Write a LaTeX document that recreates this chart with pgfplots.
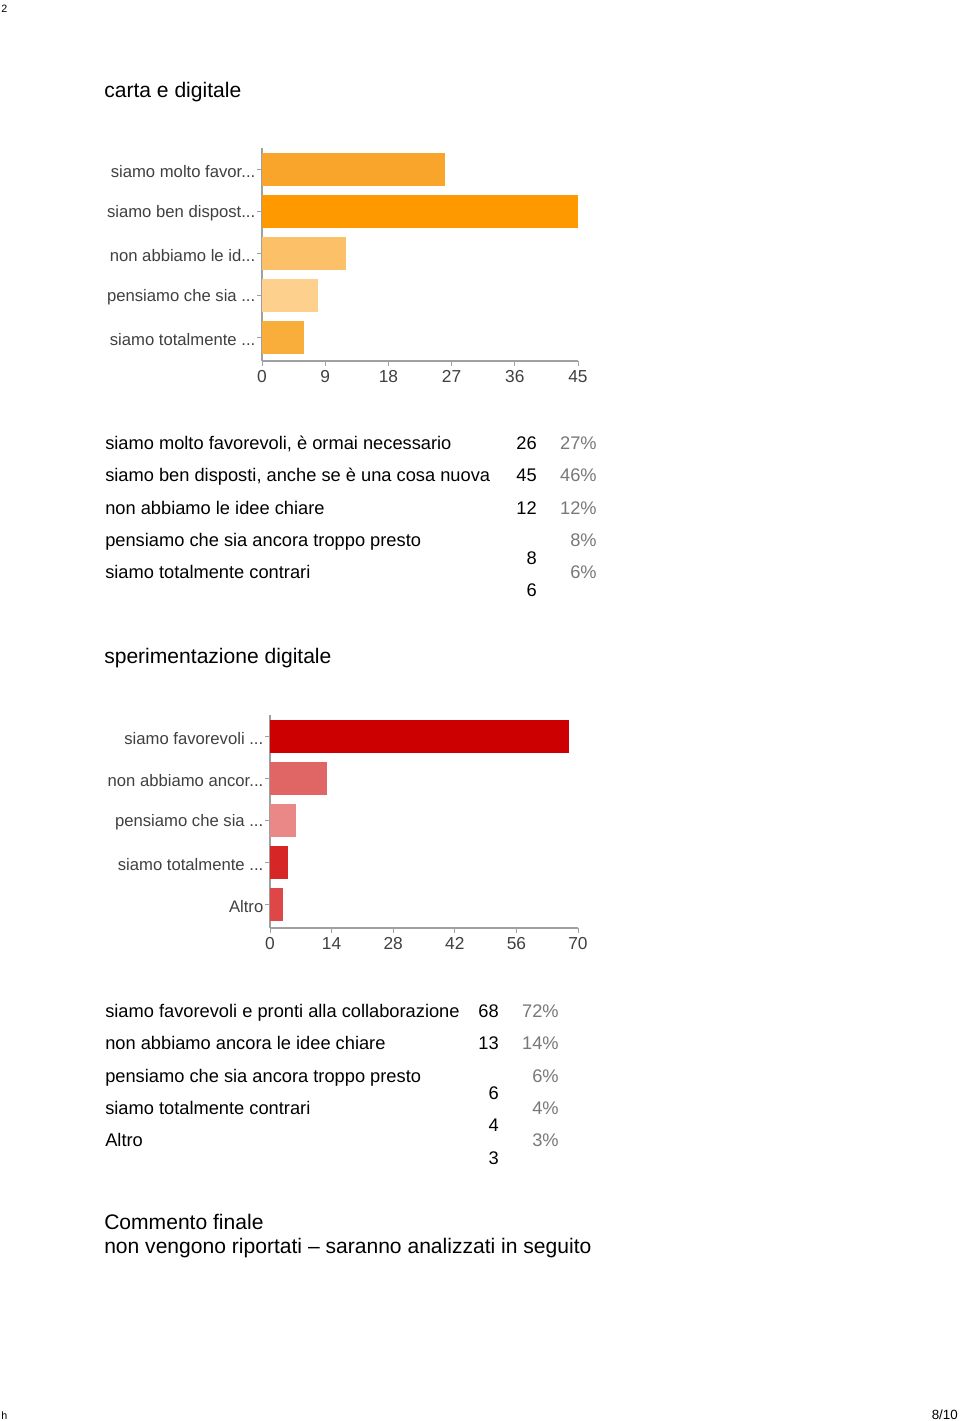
\documentclass[border=0pt]{standalone}
\usepackage{fontspec}
\setmainfont{Liberation Sans}
\usepackage{pgfplots}
\pgfplotsset{compat=1.18}
\definecolor{oA}{HTML}{F9A52B}
\definecolor{oB}{HTML}{FF9900}
\definecolor{oC}{HTML}{FCC068}
\definecolor{oD}{HTML}{FDD08E}
\definecolor{oE}{HTML}{F9AD3B}
\definecolor{rA}{HTML}{CC0000}
\definecolor{rB}{HTML}{E06666}
\definecolor{rC}{HTML}{EA8888}
\definecolor{rD}{HTML}{D62626}
\definecolor{rE}{HTML}{DE4747}
\definecolor{axgray}{HTML}{A0A0A0}
\definecolor{lblgray}{HTML}{404040}
\definecolor{pctgray}{HTML}{787878}
\newcommand{\dd}{.\kern0pt.\kern0pt.}
\pgfplotsset{
  gbar/.style={
    anchor=south west, scale only axis,
    height=159.75pt,
    ymin=0.44, ymax=5.512, ytick={1,2,3,4,5},
    axis x line*=bottom, axis y line*=left,
    axis line style={draw=axgray, line width=0.8pt},
    tick align=outside,
    tick style={draw=axgray, line width=0.6pt},
    major tick length=3.5pt,
    ticklabel style={text=lblgray},
    xticklabel style={font=\fontsize{13}{15}\selectfont},
    yticklabel style={font=\fontsize{12.5}{15}\selectfont, xshift=2pt, yshift=-1.2pt},
    /pgf/number format/assume math mode=true,
    xbar, bar width=0.786,
    clip=false,
  }
}
\newcommand{\row}[2]{\node[anchor=base west, inner sep=0pt, font=\fontsize{13.7}{16}\selectfont] at (105,#1) {#2};}
\newcommand{\num}[3]{\node[anchor=base east, inner sep=0pt, font=\fontsize{13.7}{16}\selectfont] at (#1,#2) {#3};}
\newcommand{\pct}[3]{\node[anchor=base east, inner sep=0pt, text=pctgray, font=\fontsize{13.7}{16}\selectfont] at (#1,#2) {#3};}
\begin{document}
\begin{tikzpicture}
\begin{scope}[x=0.75pt,y=-0.75pt]
\useasboundingbox (0,0) rectangle (960,1421);
\fill[white] (0,0) rectangle (960,1421);
% page fragments
\node[anchor=base west, inner sep=0pt, font=\fontsize{8}{10}\selectfont] at (1,12) {2};
\node[anchor=base west, inner sep=0pt, font=\fontsize{8}{10}\selectfont] at (1,1419) {h};
\node[anchor=base east, inner sep=0pt, font=\fontsize{10}{12}\selectfont] at (958,1419) {8/10};
% titles
\node[anchor=base west, inner sep=0pt, font=\fontsize{15.8}{18}\selectfont] at (104,97) {carta e digitale};
\node[anchor=base west, inner sep=0pt, font=\fontsize{15.8}{18}\selectfont] at (104,663) {sperimentazione digitale};
\node[anchor=base west, inner sep=0pt, font=\fontsize{15.8}{18}\selectfont] at (104,1229) {Commento finale};
\node[anchor=base west, inner sep=0pt, font=\fontsize{15.8}{18}\selectfont] at (104,1253) {non vengono riportati – saranno analizzati in seguito};
% table 1
\row{449}{siamo molto favorevoli, è ormai necessario}
\row{481}{siamo ben disposti, anche se è una cosa nuova}
\row{514}{non abbiamo le idee chiare}
\row{546}{pensiamo che sia ancora troppo presto}
\row{578}{siamo totalmente contrari}
\num{537}{449}{26}\num{537}{481}{45}\num{537}{514}{12}\num{537}{564}{8}\num{537}{596}{6}
\pct{597}{449}{27\%}\pct{597}{481}{46\%}\pct{597}{514}{12\%}\pct{597}{546}{8\%}\pct{597}{578}{6\%}
% table 2
\row{1017}{siamo favorevoli e pronti alla collaborazione}
\row{1049}{non abbiamo ancora le idee chiare}
\row{1082}{pensiamo che sia ancora troppo presto}
\row{1114}{siamo totalmente contrari}
\row{1146}{Altro}
\num{499}{1017}{68}\num{499}{1049}{13}\num{499}{1099}{6}\num{499}{1131}{4}\num{499}{1164}{3}
\pct{559}{1017}{72\%}\pct{559}{1049}{14\%}\pct{559}{1082}{6\%}\pct{559}{1114}{4\%}\pct{559}{1146}{3\%}
\end{scope}
% chart 1
\begin{axis}[gbar, at={(196.5pt,-270.75pt)}, width=237pt,
  xmin=0, xmax=45, xtick={0,9,18,27,36,45},
  yticklabels={{siamo totalmente \dd},{pensiamo che sia \dd},{non abbiamo le id\dd},{siamo ben dispost\dd},{siamo molto favor\dd}}]
\addplot[xbar, bar shift=0pt, fill=oA, draw=none] coordinates {(26,5)};
\addplot[xbar, bar shift=0pt, fill=oB, draw=none] coordinates {(45,4)};
\addplot[xbar, bar shift=0pt, fill=oC, draw=none] coordinates {(12,3)};
\addplot[xbar, bar shift=0pt, fill=oD, draw=none] coordinates {(8,2)};
\addplot[xbar, bar shift=0pt, fill=oE, draw=none] coordinates {(6,1)};
\end{axis}
% chart 2
\begin{axis}[gbar, at={(202.5pt,-696pt)}, width=231pt,
  xmin=0, xmax=70, xtick={0,14,28,42,56,70},
  yticklabels={{Altro},{siamo totalmente \dd},{pensiamo che sia \dd},{non abbiamo ancor\dd},{siamo favorevoli \dd}}]
\addplot[xbar, bar shift=0pt, fill=rA, draw=none] coordinates {(68,5)};
\addplot[xbar, bar shift=0pt, fill=rB, draw=none] coordinates {(13,4)};
\addplot[xbar, bar shift=0pt, fill=rC, draw=none] coordinates {(6,3)};
\addplot[xbar, bar shift=0pt, fill=rD, draw=none] coordinates {(4,2)};
\addplot[xbar, bar shift=0pt, fill=rE, draw=none] coordinates {(3,1)};
\end{axis}
\end{tikzpicture}
\end{document}
